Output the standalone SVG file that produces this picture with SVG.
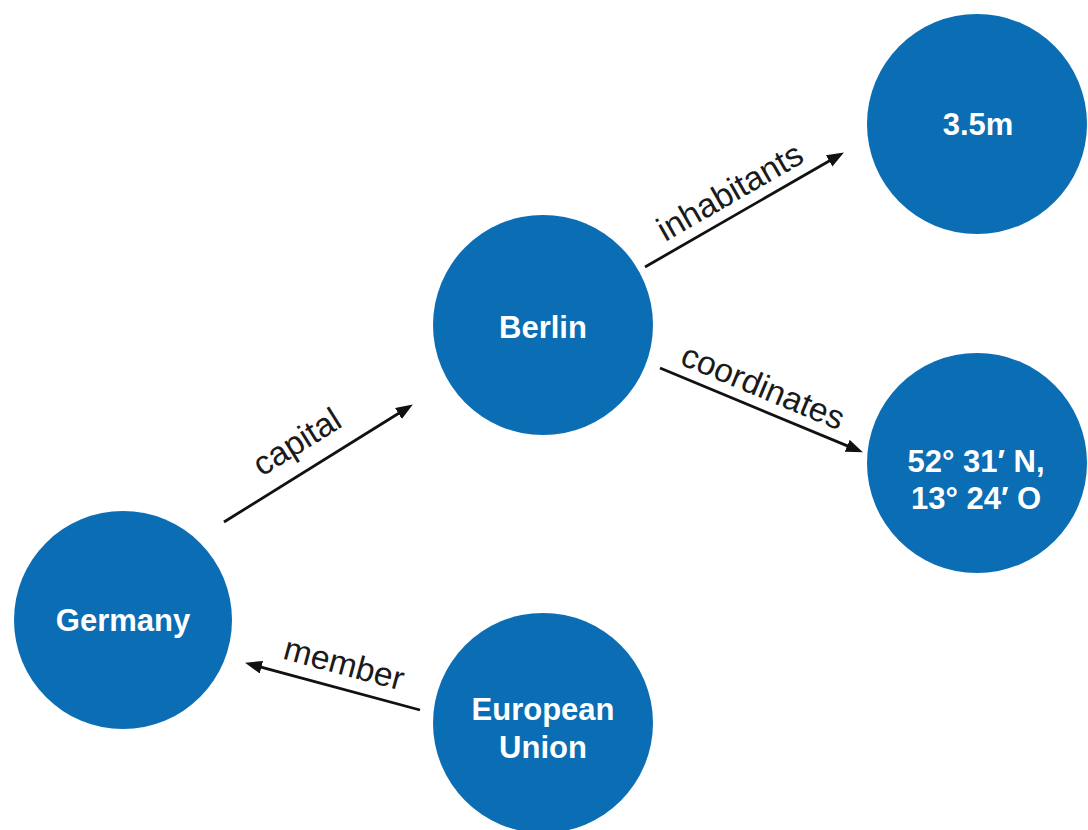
<svg xmlns="http://www.w3.org/2000/svg" width="1088" height="830" viewBox="0 0 1088 830">
  <style>
    .node { fill: #0b6db3; }
    .nlabel { font-family: "Liberation Sans", Arial, sans-serif; font-size: 31px; font-weight: bold; fill: #ffffff; text-anchor: middle; }
    .edge { stroke: #111111; stroke-width: 2.8; fill: none; marker-end: url(#arrow); }
    .elabel { font-family: "Liberation Sans", Arial, sans-serif; font-size: 33.5px; fill: #1a1a1a; text-anchor: middle; }
  </style>
  <defs>
    <marker id="arrow" markerUnits="userSpaceOnUse" markerWidth="18" markerHeight="14" refX="8" refY="6.5" orient="auto">
      <path d="M0,0 L17,6.5 L0,13 Z" fill="#111111"/>
    </marker>
  </defs>
  <rect width="1088" height="830" fill="#ffffff"/>

  <g id="connectors">
    <g id="edge-capital">
      <line class="edge" x1="224" y1="522" x2="405.2" y2="409.2"/>
      <text class="elabel" transform="translate(297,442) rotate(-31.9)" y="11">capital</text>
    </g>
    <g id="edge-inhabitants">
      <line class="edge" x1="645" y1="267" x2="836.1" y2="157"/>
      <text class="elabel" transform="translate(730,192) rotate(-29.9)" y="11">inhabitants</text>
    </g>
    <g id="edge-coordinates">
      <line class="edge" x1="660" y1="368" x2="854.6" y2="448.9"/>
      <text class="elabel" transform="translate(763,387) rotate(22.6)" y="11">coordinates</text>
    </g>
    <g id="edge-member">
      <line class="edge" x1="420" y1="710" x2="253.7" y2="665.1"/>
      <text class="elabel" transform="translate(344,664) rotate(15.1)" y="11">member</text>
    </g>
  </g>

  <g id="node-germany">
    <circle class="node" cx="123" cy="620" r="109"/>
    <text class="nlabel" x="123" y="631">Germany</text>
  </g>
  <g id="node-berlin">
    <circle class="node" cx="543" cy="325" r="110"/>
    <text class="nlabel" x="543" y="338">Berlin</text>
  </g>
  <g id="node-inhabitants">
    <circle class="node" cx="977" cy="124" r="110"/>
    <text class="nlabel" x="978" y="135">3.5m</text>
  </g>
  <g id="node-coordinates">
    <circle class="node" cx="977" cy="463" r="110"/>
    <text class="nlabel" x="976" y="472">52° 31′ N,</text>
    <text class="nlabel" x="976" y="509">13° 24′ O</text>
  </g>
  <g id="node-eu">
    <circle class="node" cx="543" cy="723" r="110"/>
    <text class="nlabel" x="543" y="720">European</text>
    <text class="nlabel" x="543" y="758">Union</text>
  </g>
</svg>
